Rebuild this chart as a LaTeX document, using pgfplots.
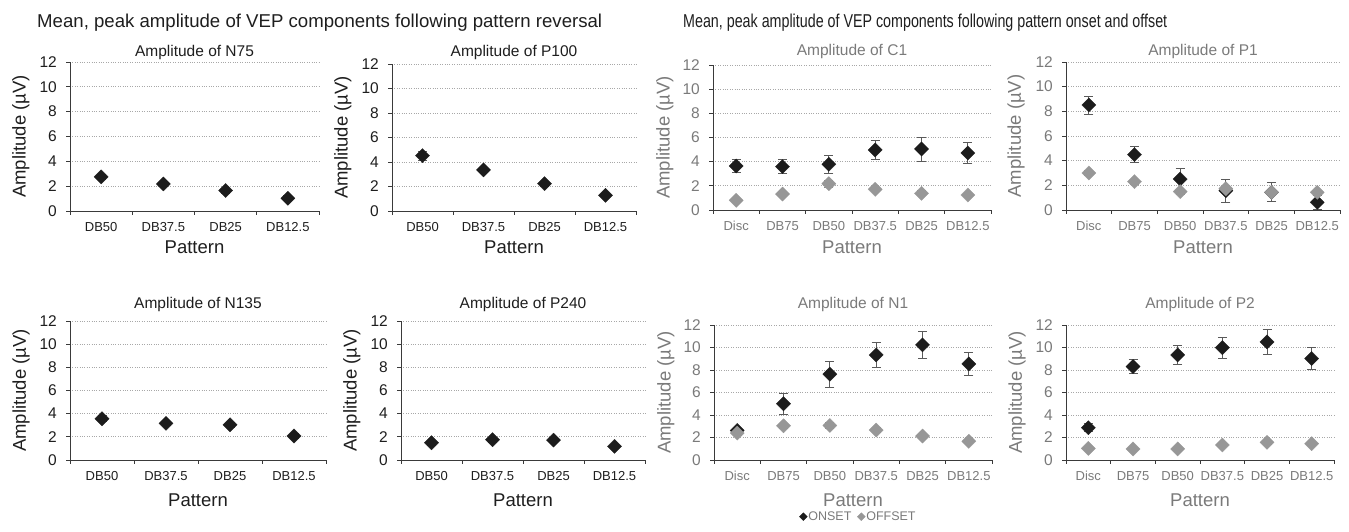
\documentclass[border=0pt]{standalone}
\usepackage{pgfplots}
\pgfplotsset{compat=1.18}
\usepackage{fontspec}
\setmainfont{Liberation Sans}
\usepackage{graphicx}

\definecolor{onc}{HTML}{1C1C1C}
\definecolor{offc}{HTML}{979797}
\definecolor{txtL}{HTML}{1E1E1E}
\definecolor{txtR}{HTML}{7A7A7A}
\definecolor{gridc}{HTML}{A8A8A8}
\definecolor{errc}{HTML}{5A5A5A}
\definecolor{axc}{HTML}{3A3A3A}

\newcommand{\fs}[1]{\fontsize{#1bp}{#1bp}\selectfont}

\pgfplotstableread{
x y e
1 2.75 0.2
2 2.18 0.2
3 1.65 0.2
4 1.02 0.2
}\Nsf
\pgfplotstableread{
x y e
1 4.52 0.35
2 3.35 0.2
3 2.23 0.2
4 1.28 0.15
}\Phun
\pgfplotstableread{
x y e
1 3.56 0.25
2 3.16 0.2
3 3.04 0.2
4 2.07 0.2
}\Nots
\pgfplotstableread{
x y e
1 1.49 0.2
2 1.75 0.2
3 1.72 0.2
4 1.18 0.15
}\Ptwf
\pgfplotstableread{
x y e
1 3.64 0.52
2 3.59 0.60
3 3.78 0.77
4 4.97 0.80
5 5.05 0.99
6 4.72 0.88
}\Conon
\pgfplotstableread{
x y e
1 0.80 0.15
2 1.32 0.2
3 2.18 0.3
4 1.71 0.2
5 1.38 0.2
6 1.24 0.15
}\Conoff
\pgfplotstableread{
x y e
1 8.51 0.74
2 4.49 0.65
3 2.51 0.90
4 1.57 0.92
5 1.43 0.77
6 0.62 0.60
}\Ponon
\pgfplotstableread{
x y e
1 3.00 0.2
2 2.30 0.2
3 1.49 0.2
4 1.73 0.2
5 1.43 0.2
6 1.43 0.15
}\Ponoff
\pgfplotstableread{
x y e
1 2.63 0.2
2 5.00 0.95
3 7.63 1.14
4 9.34 1.10
5 10.23 1.20
6 8.54 1.05
}\Nonon
\pgfplotstableread{
x y e
1 2.39 0.2
2 3.04 0.25
3 3.07 0.25
4 2.66 0.2
5 2.13 0.2
6 1.66 0.15
}\Nonoff
\pgfplotstableread{
x y e
1 2.87 0.35
2 8.31 0.65
3 9.34 0.87
4 9.99 0.95
5 10.49 1.14
6 9.02 1.00
}\Ptwon
\pgfplotstableread{
x y e
1 1.03 0.15
2 0.98 0.15
3 0.98 0.15
4 1.33 0.15
5 1.57 0.15
6 1.45 0.15
}\Ptwoff

\pgfplotsset{
  vep/.style={
    scale only axis, anchor=south west, clip=false,
    axis x line=bottom, axis y line=left,
    axis line style={-, draw=axc, line width=0.9bp},
    ymin=0, ymax=12, ytick={0,2,...,12},
    ymajorgrids, grid style={dotted, gridc, line width=0.8bp},
    tick align=outside, major tick length=4bp,
    tick style={axc, line width=0.9bp},
    /pgf/number format/assume math mode=true,
    yticklabel style={font=\fs{15.5}, anchor=east, inner sep=0pt, xshift=-9bp},
    xticklabel style={font=\fs{13}, anchor=center, inner sep=0pt, yshift=-16bp},
    extra x tick style={major tick length=0pt, grid=none},
    xticklabels={},
    ylabel={Amplitude (µV)},
    ylabel style={font=\fs{18.5}, anchor=center},
    xlabel={Pattern},
    xlabel style={font=\fs{18.5}, anchor=center, at={(axis description cs:0.5,0)}},
    title style={font=\fs{15.5}, anchor=center, at={(axis description cs:0.5,1)}, yshift=-6pt},
  },
  four/.style={vep, xmin=0.5, xmax=4.5, xtick={0.5,1.5,...,4.5},
    extra x ticks={1,2,3,4}, extra x tick labels={DB50,DB37.5,DB25,DB12.5},
    tick label style={color=txtL}, label style={color=txtL}, title style={color=txtL}},
  six/.style={vep, xmin=0.5, xmax=6.5, xtick={0.5,1.5,...,6.5},
    extra x ticks={1,2,3,4,5,6}, extra x tick labels={Disc,DB75,DB50,DB37.5,DB25,DB12.5},
    tick label style={color=txtR}, label style={color=txtR}, title style={color=txtR}},
  onst/.style={only marks, mark=square*, mark size=5bp,
    mark options={rotate=45, fill=onc, draw=onc, line width=0.3bp},
    error bars/.cd, y dir=both, y explicit,
    error bar style={errc, line width=0.8bp},
    error mark options={rotate=90, errc, mark size=4.5bp, line width=0.8bp}},
  offst/.style={only marks, mark=square*, mark size=5bp,
    mark options={rotate=45, fill=offc, draw=offc, line width=0.3bp},
    error bars/.cd, y dir=both, y explicit,
    error bar style={errc!70, line width=0.8bp},
    error mark options={rotate=90, errc!70, mark size=4.5bp, line width=0.8bp}},
}

\begin{document}
\begin{tikzpicture}[x=1bp,y=1bp]
\path[use as bounding box] (0,0) rectangle (1349,532);

\node[anchor=base west, inner sep=0pt, text=txtL] at (37,504)
  {\resizebox{565bp}{\height}{\fs{18.6}Mean, peak amplitude of VEP components following pattern reversal}};
\node[anchor=base west, inner sep=0pt, text=txtL] at (683,504)
  {\resizebox{484bp}{\height}{\fs{18.6}Mean, peak amplitude of VEP components following pattern onset and offset}};

% top row
\begin{axis}[four, at={(70bp,321bp)}, width=249bp, height=149bp,
  title={Amplitude of N75}, title style={yshift=9bp},
  ylabel style={at={(axis description cs:-0.197,0.5)}},
  xlabel style={yshift=-36bp}]
\addplot[onst] table[x=x,y=y,y error=e]{\Nsf};
\end{axis}

\begin{axis}[four, at={(392bp,321bp)}, width=244bp, height=147bp,
  title={Amplitude of P100}, title style={yshift=11bp},
  ylabel style={at={(axis description cs:-0.201,0.5)}},
  xlabel style={yshift=-36bp}]
\addplot[onst] table[x=x,y=y,y error=e]{\Phun};
\end{axis}

\begin{axis}[six, at={(713bp,322bp)}, width=278bp, height=145bp,
  title={Amplitude of C1}, title style={yshift=13bp},
  ylabel style={at={(axis description cs:-0.173,0.5)}},
  xlabel style={yshift=-37bp}]
\addplot[onst] table[x=x,y=y,y error=e]{\Conon};
\addplot[offst] table[x=x,y=y,y error=e]{\Conoff};
\end{axis}

\begin{axis}[six, at={(1066bp,322bp)}, width=274bp, height=148bp,
  title={Amplitude of P1}, title style={yshift=10bp},
  ylabel style={at={(axis description cs:-0.182,0.5)}},
  xlabel style={yshift=-37bp}]
\addplot[onst] table[x=x,y=y,y error=e]{\Ponon};
\addplot[offst] table[x=x,y=y,y error=e]{\Ponoff};
\end{axis}

% bottom row
\begin{axis}[four, at={(70bp,72bp)}, width=256bp, height=139bp,
  title={Amplitude of N135}, title style={yshift=16bp},
  ylabel style={at={(axis description cs:-0.191,0.5)}},
  xlabel style={yshift=-40bp}]
\addplot[onst] table[x=x,y=y,y error=e]{\Nots};
\end{axis}

\begin{axis}[four, at={(401bp,72bp)}, width=244bp, height=139bp,
  title={Amplitude of P240}, title style={yshift=16bp},
  ylabel style={at={(axis description cs:-0.201,0.5)}},
  xlabel style={yshift=-40bp}]
\addplot[onst] table[x=x,y=y,y error=e]{\Ptwf};
\end{axis}

\begin{axis}[six, at={(714bp,72bp)}, width=278bp, height=135bp,
  title={Amplitude of N1}, title style={yshift=20bp},
  ylabel style={at={(axis description cs:-0.173,0.5)}},
  xlabel style={yshift=-40bp},
  legend columns=2,
  legend style={at={(axis description cs:0.518,-0.42)}, anchor=center,
    draw=none, fill=none, inner sep=0pt, font=\fs{12.5}, text=txtR,
    /tikz/every even column/.append style={column sep=5bp},
    nodes={inner sep=1bp}},
  legend image code/.code={\draw[#1, mark size=2.8bp] plot coordinates {(0bp,0bp)};}]
\addplot[onst] table[x=x,y=y,y error=e]{\Nonon};
\addlegendentry{ONSET}
\addplot[offst] table[x=x,y=y,y error=e]{\Nonoff};
\addlegendentry{OFFSET}
\end{axis}

\begin{axis}[six, at={(1066bp,72bp)}, width=268bp, height=135bp,
  title={Amplitude of P2}, title style={yshift=20bp},
  ylabel style={at={(axis description cs:-0.183,0.5)}},
  xlabel style={yshift=-40bp}]
\addplot[onst] table[x=x,y=y,y error=e]{\Ptwon};
\addplot[offst] table[x=x,y=y,y error=e]{\Ptwoff};
\end{axis}
\end{tikzpicture}
\end{document}
